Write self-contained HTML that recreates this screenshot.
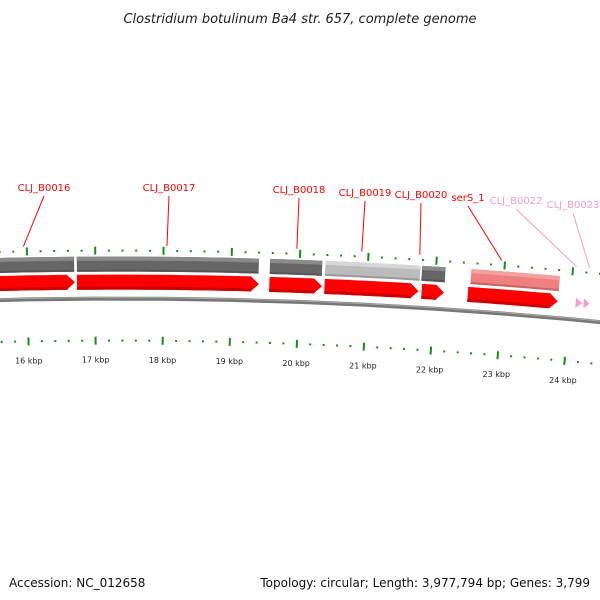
<!DOCTYPE html>
<html><head><meta charset="utf-8"><style>
body{margin:0;background:#fff;}
svg{display:block;font-family:"DejaVu Sans","Liberation Sans",sans-serif;}
</style></head><body>
<svg id="map" width="600" height="600" viewBox="0 0 600 600">
<text x="300" y="23" text-anchor="middle" font-size="13" font-style="italic" fill="#222">Clostridium botulinum Ba4 str. 657, complete genome</text>
<text x="9" y="587" font-size="12" fill="#111">Accession: NC_012658</text>
<text x="590" y="587" font-size="12" fill="#111" text-anchor="end">Topology: circular; Length: 3,977,794 bp; Genes: 3,799</text>
<g id="tracks"></g>
</svg>
<script>
// data
const geneNames = ["CLJ_B0015","CLJ_B0016","CLJ_B0017","CLJ_B0018","CLJ_B0019","CLJ_B0020","serS_1","CLJ_B0022","CLJ_B0023"];
const geneStarts = [15000,16713,19564,20377,21810,22519,24084,24203];
const geneStarts2 = [15000,16713,19564,20377,21795,22519,24084,24203];
const cdsStarts = [15000,16730,19564,20377,21795,22519];
const cdsEnds   = [16690,19400,20330,21770,22140,23820];
const cdsTypes  = ["dark","dark","dark","light","dark","pink"];
const redStarts = [15000,16730,19564,20377,21810,22490];
const redEnds   = [16700,19410,20340,21765,22140,23820];
const pinkArrowStarts = [24084,24203];
const pinkArrowEnds   = [24188,24291];
const kbpTicks = [15,16,17,18,19,20,21,22,23,24,25];
const labelNames = ["CLJ_B0016","CLJ_B0017","CLJ_B0018","CLJ_B0019","CLJ_B0020","serS_1","CLJ_B0022","CLJ_B0023"];
const labelX = [44,169,299,365,421,468,516,573];
const labelY = [191,191,193,196,198,201,204,208];
const labelTargets = [15950,18050,19950,20900,21750,22950,24050,24240];
const labelColors = ["red","red","red","red","red","red","pink","pink"];

const NS="http://www.w3.org/2000/svg";
const cx=117, cy=5295.6, R=5000, BP0=17319, K=0.0677/5000*R/R;
function ang(bp){return (bp-BP0)*0.0677/5000;}
function pt(bp,r){const t=ang(bp);return [cx+r*Math.sin(t), cy-r*Math.cos(t)];}
const g=document.getElementById('tracks');
function mk(tag,attrs){const e=document.createElementNS(NS,tag);for(const k in attrs)e.setAttribute(k,attrs[k]);g.appendChild(e);return e;}
function arcPts(s,e,r){const a=[];const n=12;for(let i=0;i<=n;i++){a.push(pt(s+(e-s)*i/n,r));}return a;}
function band(s,e,r1,r2){const p=arcPts(s,e,r2).concat(arcPts(s,e,r1).reverse());return p.map(q=>q[0].toFixed(1)+","+q[1].toFixed(1)).join(" ");}
function arrow(s,e,r1,r2,head){const hs=Math.max(s,e-head);const p=arcPts(s,hs,r2);p.push(pt(e,(r1+r2)/2));p.push(...arcPts(s,hs,r1).reverse());return p.map(q=>q[0].toFixed(1)+","+q[1].toFixed(1)).join(" ");}
function pathArc(s,e,r){return "M"+arcPts(s,e,r).map(q=>q[0].toFixed(1)+" "+q[1].toFixed(1)).join(" L");}

// backbone
let bb=mk('path',{d:pathArc(14000,26000,R-3),stroke:'#777',"stroke-width":4,fill:'none'});


let bb2=mk('path',{d:pathArc(14000,26000,R-2),stroke:'#aaa',"stroke-width":1,fill:'none'});



// ticks
for(let bp=15000;bp<=25200;bp+=200){
  const major=bp%1000===0;
  for(const base of [R+45,R-45]){
    const a=pt(bp,major?base-4:base-1), b=pt(bp,major?base+4:base+1);
    const t=mk('line',{x1:a[0],y1:a[1],x2:b[0],y2:b[1],stroke:'#1a8a1a',"stroke-width":2});
    
    
  }
}
kbpTicks.forEach(k=>{
  const p=pt(k*1000,R-64);
  const t=mk('text',{x:p[0],y:p[1]+3,"font-size":8,"text-anchor":"middle",fill:'#222'});
  t.textContent=k+" kbp";
  
  
});

// CDS grey track
const fills={dark:['#666','#8a8a8a','#555'],light:['#bbb','#d6d6d6','#999'],pink:['#f08080','#f4a0a0','#c86464']};
cdsStarts.forEach((s,i)=>{
  const f=fills[cdsTypes[i]];
  const b=mk('polygon',{points:band(s,cdsEnds[i],R+24,R+39),fill:f[0]});
  
  
  const h=mk('polygon',{points:band(s,cdsEnds[i],R+35,R+39),fill:f[1]});
  
  
  const d=mk('polygon',{points:band(s,cdsEnds[i],R+24,R+26),fill:f[2]});
  
  
});
// red gene arrows
redStarts.forEach((s,i)=>{
  const a=mk('polygon',{points:arrow(s,redEnds[i],R+6,R+21,120),fill:'#f00'});
  
  
  const d=mk('polygon',{points:band(s,redEnds[i]-110,R+6,R+9),fill:'#c00'});
  
  
});
pinkArrowStarts.forEach((s,i)=>{
  const a=mk('polygon',{points:arrow(s,pinkArrowEnds[i],R+9,R+19,pinkArrowEnds[i]-s),fill:'#f7a0d0'});
  
  
});
// labels
labelNames.forEach((n,i)=>{
  const col=labelColors[i]==='red'?'#f00':'#f79ac8';
  const p=pt(labelTargets[i],R+50);
  const l=mk('line',{x1:labelX[i],y1:labelY[i]+5,x2:p[0],y2:p[1],stroke:col,"stroke-width":1});
  
  
  const t=mk('text',{x:labelX[i],y:labelY[i],"font-size":10,"text-anchor":"middle",fill:col});
  t.textContent=n;
  
  
});
</script>
</body></html>
